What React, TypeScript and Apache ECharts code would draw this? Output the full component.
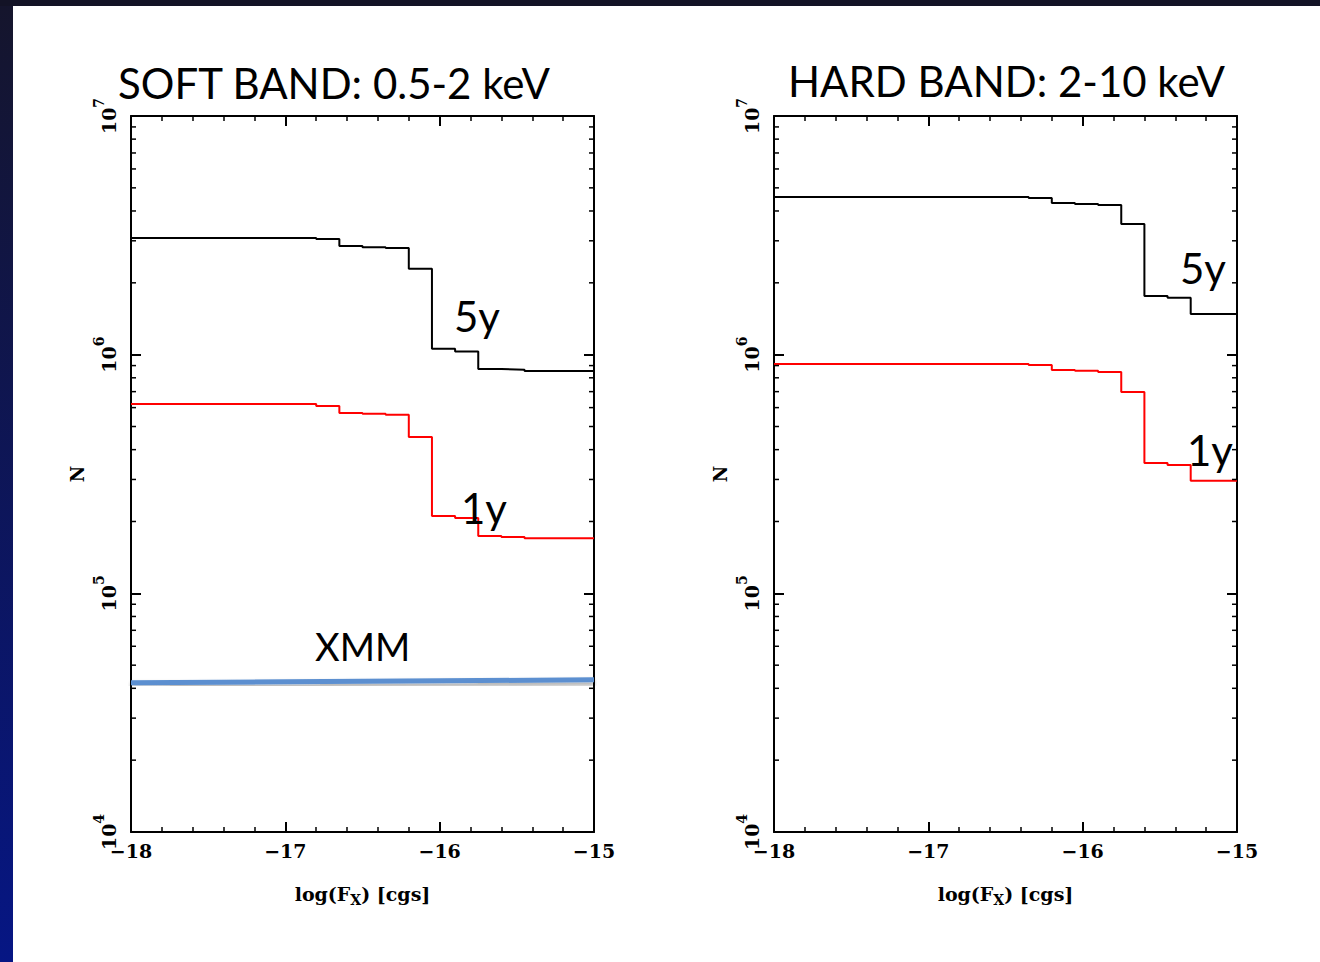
import React, { useEffect, useRef } from "react";
import * as echarts from "echarts";

// ---- data ----
const softEdges = [-18, -16.8, -16.65, -16.5, -16.35, -16.2, -16.05, -15.9, -15.75, -15.6, -15.45];
const soft5y = [3.08e6, 3.05e6, 2.85e6, 2.82e6, 2.8e6, 2.29e6, 1.06e6, 1.03e6, 8.7e5, 8.65e5, 8.55e5];
const soft1y = [6.22e5, 6.1e5, 5.7e5, 5.65e5, 5.6e5, 4.52e5, 2.11e5, 2.07e5, 1.74e5, 1.72e5, 1.7e5];

const hardEdges = [-18, -16.35, -16.2, -16.05, -15.9, -15.75, -15.6, -15.45, -15.3];
const hard5y = [4.58e6, 4.53e6, 4.32e6, 4.28e6, 4.24e6, 3.53e6, 1.76e6, 1.73e6, 1.48e6];
const hard1y = [9.14e5, 9.05e5, 8.63e5, 8.56e5, 8.46e5, 6.98e5, 3.52e5, 3.45e5, 2.96e5];

const xmmX = [-18, -15];
const xmmN = [4.22e4, 4.34e4];

const xMin = -18;
const xMax = -15;
const yDecades = [1e4, 1e5, 1e6];
const yMinorMultipliers = [2, 3, 4, 5, 6, 7, 8, 9];

const titles = ["SOFT BAND: 0.5-2 keV", "HARD BAND: 2-10 keV"];
const xName = "log(F{sub|X}) [cgs]";
const yName = "N";

// ---- helpers ----
const SERIF = '"DejaVu Serif", "Liberation Serif", serif';
const SANS = 'Lato, "Open Sans", sans-serif';

const stepData = (edges: number[], vals: number[]) => {
  const d = edges.map((e, i) => [e, vals[i]]);
  d.push([xMax, vals[vals.length - 1]]);
  return d;
};

const yMinorTicks: number[] = [];
yDecades.forEach((d) => yMinorMultipliers.forEach((m) => yMinorTicks.push(d * m)));

const minus = (v: number) => (v < 0 ? "\u2212" + Math.abs(v) : String(v));

const xAxisBase = (gridIndex: number, top: boolean) => ({
  type: "value",
  gridIndex,
  position: top ? "top" : "bottom",
  min: xMin,
  max: xMax,
  interval: 1,
  axisLine: { show: true, onZero: false, lineStyle: { color: "#000", width: 2 } },
  axisTick: { show: true, inside: true, length: 10, lineStyle: { color: "#000", width: 2 } },
  minorTick: { show: true, splitNumber: 5, length: 5, lineStyle: { color: "#000", width: 1.5 } },
  splitLine: { show: false },
  minorSplitLine: { show: false },
  axisLabel: top
    ? { show: false }
    : {
        show: true,
        formatter: minus,
        color: "#000",
        fontFamily: SERIF,
        fontWeight: "bold",
        fontSize: 19,
        margin: 9,
      },
  name: top ? "" : xName,
  nameLocation: "middle",
  nameGap: 49,
  nameTextStyle: {
    color: "#000",
    fontFamily: SERIF,
    fontWeight: "bold",
    fontSize: 19,
    rich: {
      sub: { fontFamily: SERIF, fontWeight: "bold", fontSize: 14, color: "#000", verticalAlign: "bottom", padding: [12, 0, 0, 0] },
    },
  },
});

const yAxisBase = (gridIndex: number, right: boolean) => ({
  type: "log",
  logBase: 10,
  gridIndex,
  position: right ? "right" : "left",
  min: 1e4,
  max: 1e7,
  axisLine: { show: true, onZero: false, lineStyle: { color: "#000", width: 2 } },
  axisTick: { show: true, inside: true, length: 10, lineStyle: { color: "#000", width: 2 } },
  minorTick: { show: false },
  splitLine: { show: false },
  axisLabel: right
    ? { show: false }
    : {
        show: true,
        rotate: 90,
        margin: 13,
        formatter: (v: number) => `{b|10}{s|${Math.round(Math.log10(v))}}`,
        rich: {
          b: { fontFamily: SERIF, fontWeight: "bold", fontSize: 19, color: "#000", lineHeight: 26, verticalAlign: "bottom" },
          s: { fontFamily: SERIF, fontWeight: "bold", fontSize: 14, color: "#000", verticalAlign: "top", lineHeight: 26 },
        },
      },
  name: right ? "" : yName,
  nameLocation: "middle",
  nameRotate: 90,
  nameGap: 45,
  nameTextStyle: { color: "#000", fontFamily: SERIF, fontWeight: "bold", fontSize: 18 },
});

const stepSeries = (idx: number, data: number[][], color: string) => ({
  type: "line",
  xAxisIndex: idx * 2,
  yAxisIndex: idx * 2,
  step: "end",
  data,
  showSymbol: false,
  symbol: "none",
  lineStyle: { color, width: 2 },
  z: 4,
});

const tickSeries = (idx: number) => ({
  type: "custom",
  xAxisIndex: idx * 2,
  yAxisIndex: idx * 2,
  data: yMinorTicks.map((v) => [xMin, v]),
  clip: false,
  silent: true,
  z: 5,
  renderItem: (_params: any, api: any) => {
    const v = api.value(1);
    const l = api.coord([xMin, v]);
    const r = api.coord([xMax, v]);
    return {
      type: "group",
      children: [
        { type: "line", shape: { x1: l[0], y1: l[1], x2: l[0] + 5, y2: l[1] }, style: { stroke: "#000", lineWidth: 1.5 } },
        { type: "line", shape: { x1: r[0] - 5, y1: r[1], x2: r[0], y2: r[1] }, style: { stroke: "#000", lineWidth: 1.5 } },
      ],
    };
  },
});

const label = (text: string, x: number, y: number, size: number) => ({
  type: "text",
  x,
  y,
  z: 10,
  style: { text, fill: "#000", font: `${size}px ${SANS}`, textVerticalAlign: "middle", textAlign: "left" },
});

export default function App() {
  const ref = useRef<HTMLDivElement>(null);
  useEffect(() => {
    if (!ref.current) return;
    const chart = echarts.init(ref.current, null, { renderer: "svg" });
    chart.setOption({
      animation: false,
      backgroundColor: "#fff",
      grid: [
        { left: 131, top: 116, width: 463, height: 716 },
        { left: 774, top: 116, width: 463, height: 716 },
      ],
      xAxis: [xAxisBase(0, false), xAxisBase(0, true), xAxisBase(1, false), xAxisBase(1, true)],
      yAxis: [yAxisBase(0, false), yAxisBase(0, true), yAxisBase(1, false), yAxisBase(1, true)],
      series: [
        stepSeries(0, stepData(softEdges, soft5y), "#000"),
        stepSeries(0, stepData(softEdges, soft1y), "#ff0000"),
        {
          type: "line",
          xAxisIndex: 0,
          yAxisIndex: 0,
          data: xmmX.map((x, i) => [x, xmmN[i]]),
          showSymbol: false,
          symbol: "none",
          clip: false,
          lineStyle: {
            color: "#5b8fd0",
            width: 5,
            shadowColor: "rgba(0,0,0,0.35)",
            shadowBlur: 4,
            shadowOffsetY: 3,
          },
          z: 3,
        },
        tickSeries(0),
        stepSeries(1, stepData(hardEdges, hard5y), "#000"),
        stepSeries(1, stepData(hardEdges, hard1y), "#ff0000"),
        tickSeries(1),
      ],
      graphic: [
        {
          type: "rect",
          shape: { x: 0, y: 0, width: 13, height: 962 },
          style: {
            fill: new echarts.graphic.LinearGradient(0, 0, 0, 1, [
              { offset: 0, color: "#15152c" },
              { offset: 1, color: "#061684" },
            ]),
          },
        },
        { type: "rect", shape: { x: 0, y: 0, width: 1320, height: 6 }, style: { fill: "#131326" } },
        label(titles[0], 118, 83, 42),
        label(titles[1], 788, 81, 42),
        label("5y", 454, 316, 42),
        label("1y", 461, 508, 42),
        label("XMM", 315, 646, 38),
        label("5y", 1180, 268, 42),
        label("1y", 1187, 450, 42),
      ],
    });
    return () => chart.dispose();
  }, []);
  return <div ref={ref} style={{ position: "fixed", left: 0, top: 0, width: 1320, height: 962 }} />;
}
